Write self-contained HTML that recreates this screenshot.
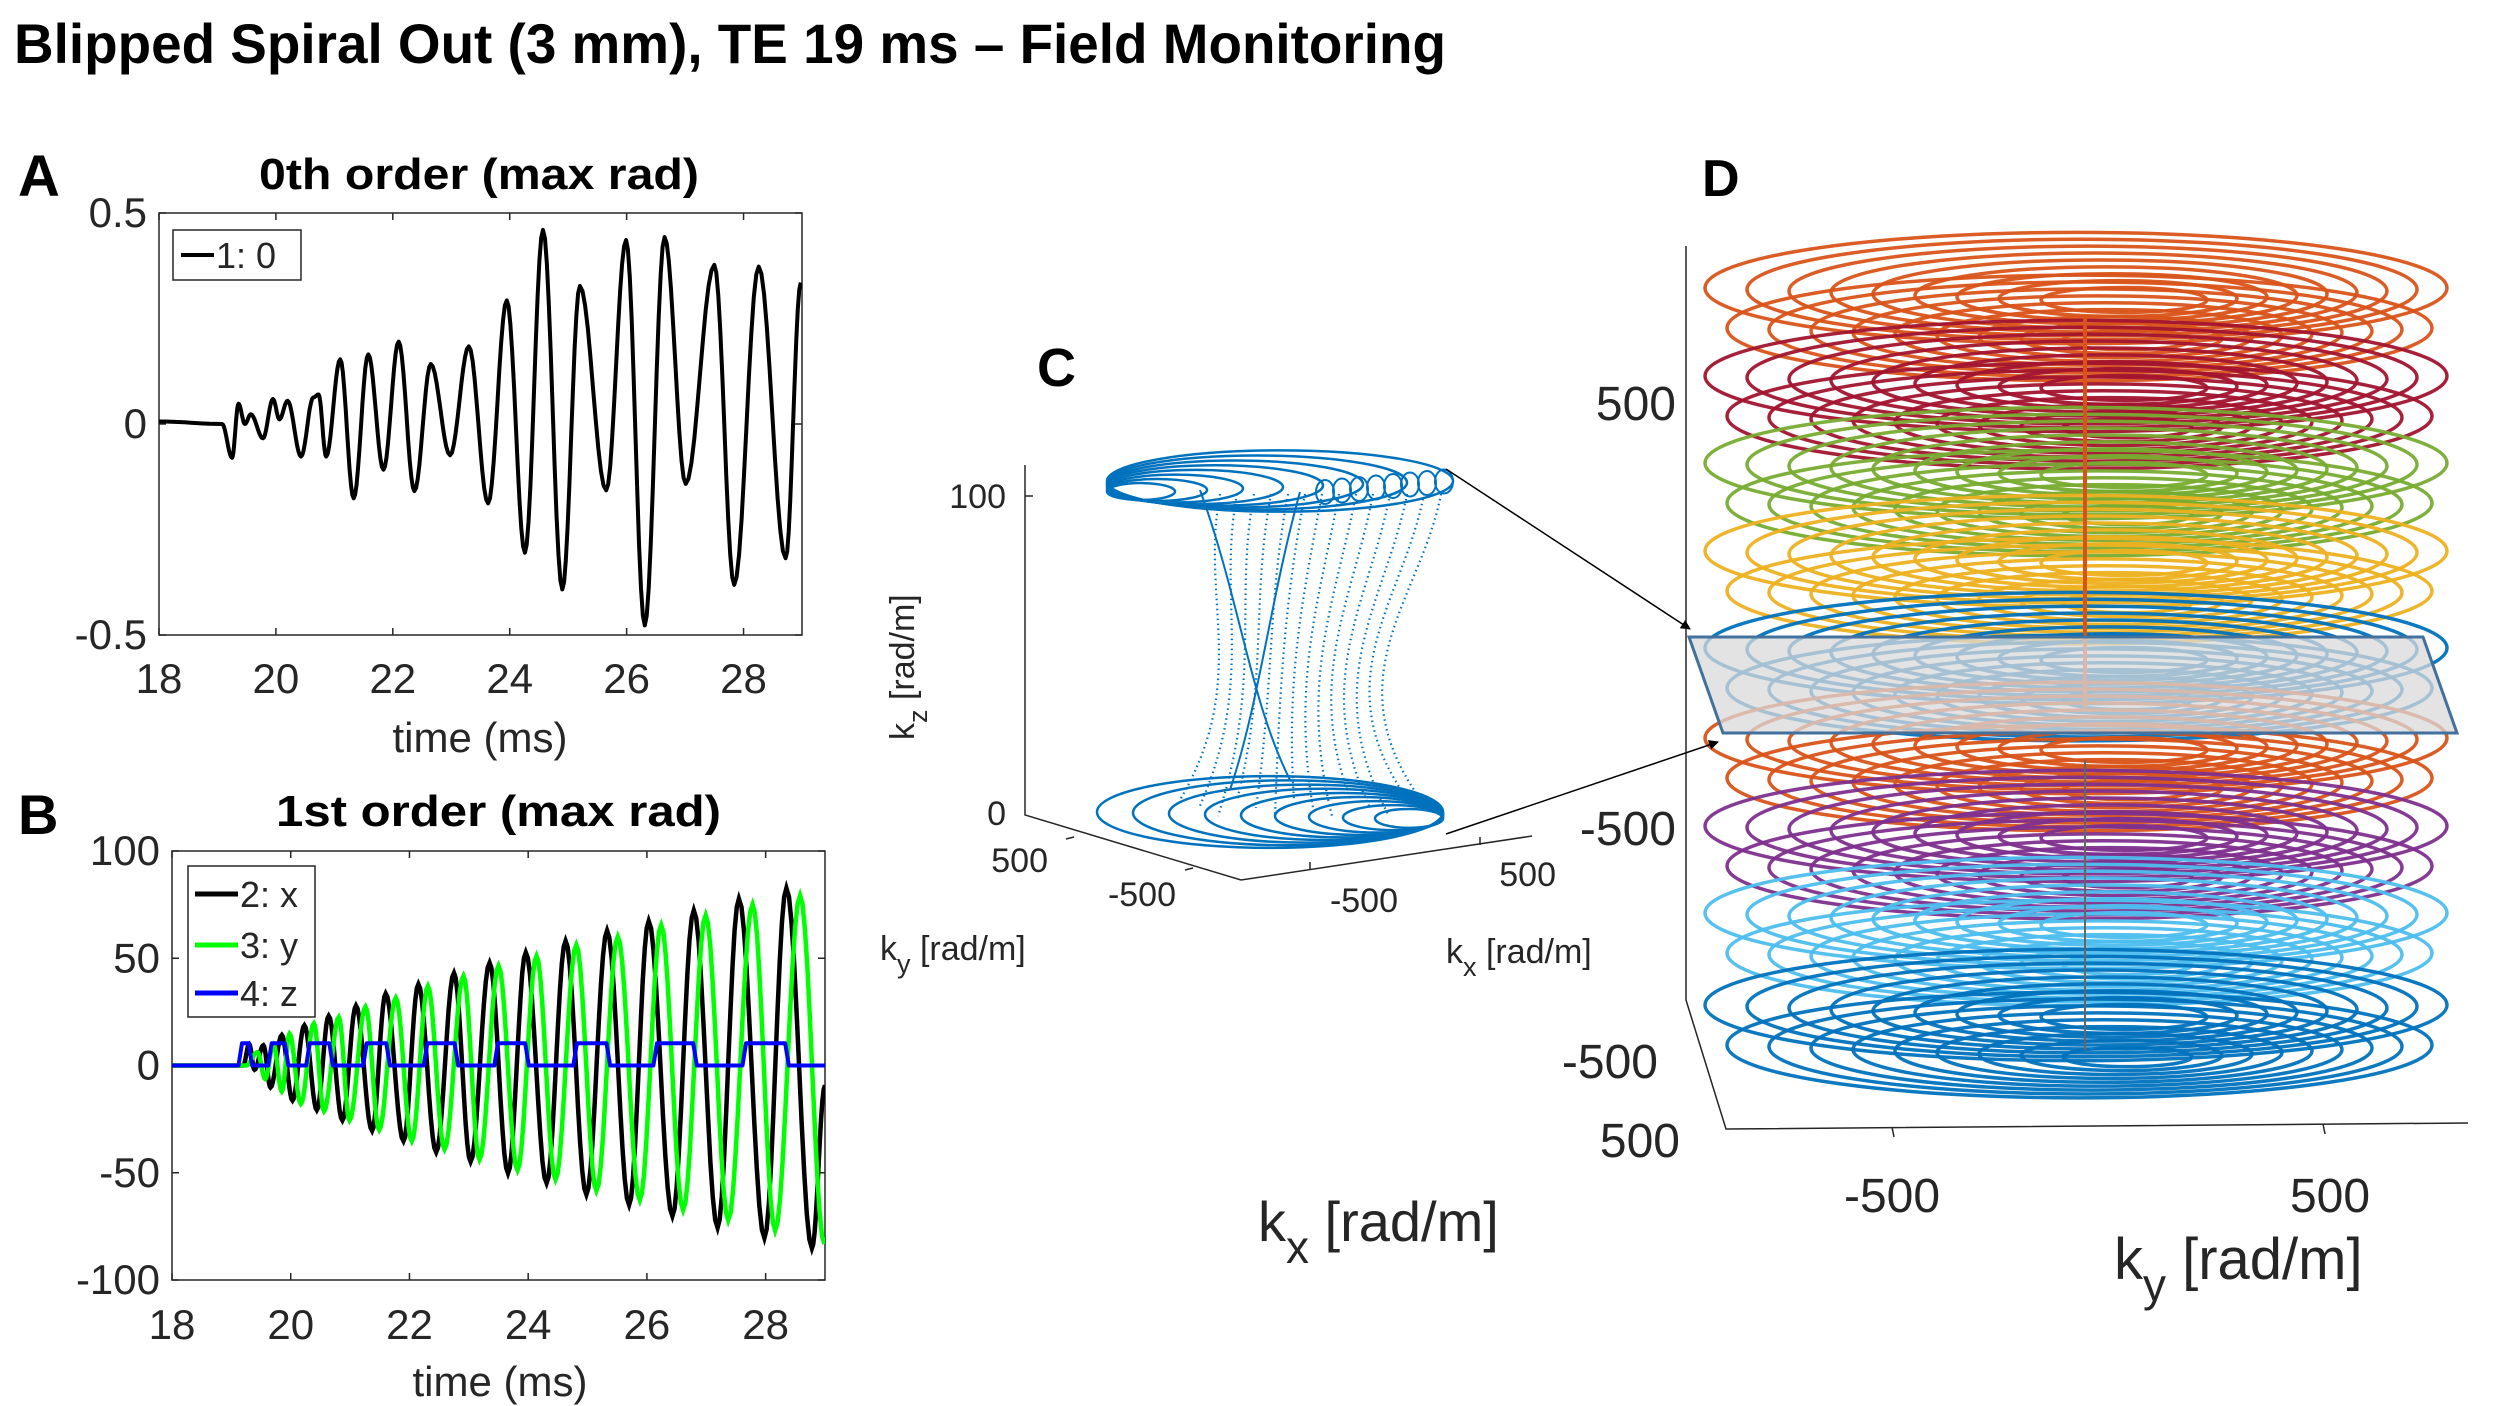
<!DOCTYPE html>
<html><head><meta charset="utf-8">
<style>
html,body{margin:0;padding:0;background:#fff;}
svg{display:block;}
text{font-family:"Liberation Sans",sans-serif;fill:#262626;}
.b{font-weight:bold;fill:#000;}
</style></head>
<body>
<svg id="fig" width="2500" height="1406" viewBox="0 0 2500 1406" xmlns="http://www.w3.org/2000/svg">
<defs>
<marker id="ah" markerWidth="10" markerHeight="10" refX="9" refY="5" orient="auto" markerUnits="userSpaceOnUse"><path d="M0,0 L10,5 L0,10 z" fill="#000"/></marker>
<clipPath id="clipA"><rect x="159" y="213" width="643" height="422"/></clipPath>
<clipPath id="clipB"><rect x="172" y="851" width="653" height="429"/></clipPath>
</defs>
<text class="b" x="14" y="63" font-size="56" textLength="1432" lengthAdjust="spacingAndGlyphs">Blipped Spiral Out (3 mm), TE 19 ms – Field Monitoring</text>

<!-- Panel A -->
<g id="panelA">
<text class="b" x="18" y="196" font-size="58">A</text>
<text class="b" x="259" y="189" font-size="44" textLength="440" lengthAdjust="spacingAndGlyphs">0th order (max rad)</text>
<rect x="159" y="213" width="643" height="422" fill="none" stroke="#262626" stroke-width="1.5"/>
<g id="aTicks"></g>
<g id="aLine" clip-path="url(#clipA)"></g>
<text x="480" y="752" font-size="42" text-anchor="middle">time (ms)</text>
<g>
<rect x="173" y="230" width="128" height="50" fill="#fff" stroke="#262626" stroke-width="1.5"/>
<line x1="181" y1="255" x2="214" y2="255" stroke="#000" stroke-width="4"/>
<text x="216" y="268" font-size="36">1: 0</text>
</g>
</g>

<!-- Panel B -->
<g id="panelB">
<text class="b" x="18" y="834" font-size="56">B</text>
<text class="b" x="276" y="826" font-size="44" textLength="445" lengthAdjust="spacingAndGlyphs">1st order (max rad)</text>
<rect x="172" y="851" width="653" height="429" fill="none" stroke="#262626" stroke-width="1.5"/>
<g id="bTicks"></g>
<g id="bLines" clip-path="url(#clipB)"></g>
<text x="500" y="1396" font-size="42" text-anchor="middle">time (ms)</text>
<g>
<rect x="188" y="866" width="127" height="151" fill="#fff" stroke="#262626" stroke-width="1.5"/>
<line x1="195" y1="894" x2="238" y2="894" stroke="#000" stroke-width="5"/>
<text x="240" y="907" font-size="36">2: x</text>
<line x1="195" y1="945" x2="238" y2="945" stroke="#00ff00" stroke-width="5"/>
<text x="240" y="958" font-size="36">3: y</text>
<line x1="195" y1="993" x2="238" y2="993" stroke="#0000ff" stroke-width="5"/>
<text x="240" y="1006" font-size="36">4: z</text>
</g>
</g>

<!-- Panel C -->
<g id="panelC">
<text class="b" x="1037" y="386" font-size="54">C</text>
<polyline points="1025,465 1025,815 1241,880 1532,836" fill="none" stroke="#262626" stroke-width="1.5"/>
<line x1="1025" y1="496" x2="1033" y2="496" stroke="#262626" stroke-width="1.5"/>
<line x1="1066" y1="839" x2="1074" y2="837" stroke="#262626" stroke-width="1.5"/>
<line x1="1185" y1="870" x2="1193" y2="868" stroke="#262626" stroke-width="1.5"/>
<line x1="1310" y1="870" x2="1310" y2="862" stroke="#262626" stroke-width="1.5"/>
<line x1="1480" y1="845" x2="1480" y2="837" stroke="#262626" stroke-width="1.5"/>
<g font-size="34">
<text x="1006" y="508" text-anchor="end">100</text>
<text x="1006" y="825" text-anchor="end">0</text>
<text x="1048" y="872" text-anchor="end">500</text>
<text x="1176" y="906" text-anchor="end">-500</text>
<text x="1398" y="912" text-anchor="end">-500</text>
<text x="1556" y="886" text-anchor="end">500</text>
<text x="880" y="960">k<tspan dy="13" font-size="27">y</tspan><tspan dy="-13"> [rad/m]</tspan></text>
<text x="1446" y="963">k<tspan dy="13" font-size="27">x</tspan><tspan dy="-13"> [rad/m]</tspan></text>
<text transform="translate(914,740) rotate(-90)">k<tspan dy="13" font-size="27">z</tspan><tspan dy="-13"> [rad/m]</tspan></text>
</g>
<g id="cSpiral"></g>
<text x="1258" y="1241" font-size="56">k<tspan dy="22" font-size="46">x</tspan><tspan dy="-22"> [rad/m]</tspan></text>
</g>

<!-- Panel D -->
<g id="panelD">
<text class="b" x="1702" y="196" font-size="52">D</text>
<polyline points="1686,246 1686,1000 1726,1129 2468,1123" fill="none" stroke="#262626" stroke-width="1.5"/>
<g id="dSpiral"></g>
<g font-size="48">
<text x="1676" y="420" text-anchor="end">500</text>
<text x="1676" y="845" text-anchor="end">-500</text>
<text x="1658" y="1078" text-anchor="end">-500</text>
<text x="1680" y="1157" text-anchor="end">500</text>
<text x="1892" y="1212" text-anchor="middle">-500</text>
<text x="2330" y="1212" text-anchor="middle">500</text>
</g>
<line x1="1892" y1="1127" x2="1894" y2="1137" stroke="#262626" stroke-width="1.5"/>
<line x1="2323" y1="1124" x2="2325" y2="1134" stroke="#262626" stroke-width="1.5"/>
<text x="2114" y="1279" font-size="58">k<tspan dy="22" font-size="46">y</tspan><tspan dy="-22"> [rad/m]</tspan></text>
<polygon points="1689,637 2423,637 2457,733 1723,733" fill="#d9d9d9" fill-opacity="0.75" stroke="#41719C" stroke-width="3"/>
</g>
<line x1="1446" y1="469" x2="1690" y2="629" stroke="#000" stroke-width="1.5" marker-end="url(#ah)"/>
<line x1="1446" y1="834" x2="1718" y2="742" stroke="#000" stroke-width="1.5" marker-end="url(#ah)"/>
</svg>
<script>
// ===== Panel A data: extremes of 0th order phase (time ms, value rad)
const aTimes = [18.00,19.08,19.25,19.36,19.47,19.57,19.78,19.95,20.06,20.20,20.43,20.64,20.73,20.86,21.10,21.33,21.58,21.84,22.10,22.37,22.65,22.98,23.30,23.63,23.95,24.26,24.57,24.90,25.20,25.65,25.99,26.31,26.65,27.01,27.50,27.84,28.26,28.72,28.98];
const aValues = [0.006,0,-0.08,0.048,0,0.023,-0.034,0.059,0.011,0.055,-0.077,0.063,0.07,-0.077,0.153,-0.176,0.165,-0.108,0.195,-0.159,0.142,-0.074,0.184,-0.188,0.293,-0.305,0.46,-0.392,0.327,-0.157,0.436,-0.477,0.443,-0.142,0.377,-0.381,0.373,-0.318,0.335];
const aXTicks = [18,20,22,24,26,28];
const aYTicks = [0.5,0,-0.5];
const aYTickLabels = ["0.5","0","-0.5"];
// ===== Panel B data
const bXTimes = [18,19.2,19.30,19.39,19.54,19.66,19.85,20.03,20.23,20.44,20.64,20.87,21.10,21.37,21.60,21.90,22.15,22.45,22.75,23.03,23.35,23.66,23.96,24.31,24.63,24.98,25.33,25.70,26.03,26.43,26.79,27.19,27.55,27.98,28.35,28.78,29.0];
const bXValues = [0,0,10,-2,9.4,-10.2,14.2,-16.3,18.7,-20.8,23.1,-25.6,27.9,-30.4,33.5,-35.2,37.9,-40.4,43.1,-44.8,47.9,-50.2,52.7,-54.8,58.1,-60.2,62.9,-65,67.3,-70.2,72.3,-75.6,77.7,-80.4,82.7,-85.2,-9.2];
const bYTimes = [18,19.25,19.44,19.57,19.71,19.85,19.98,20.17,20.39,20.56,20.81,20.99,21.26,21.49,21.77,22.04,22.31,22.59,22.91,23.18,23.50,23.82,24.14,24.46,24.81,25.15,25.51,25.88,26.24,26.61,26.99,27.37,27.78,28.16,28.58,28.99];
const bYValues = [0,0,6.2,-6.3,10,-12.1,14.8,-17.9,19.6,-21.2,22.5,-25.6,27.3,-30,31.5,-35.2,36.9,-39,41.7,-43.8,46.5,-48.7,51,-53.1,56.2,-58.3,60,-62.7,65.4,-67.3,70,-72.1,75,-76.9,79.2,-83.3];
const bZStarts = [19.12,19.62,20.26,21.22,22.24,23.43,24.76,26.11,27.61];
const bZEnds = [19.35,19.96,20.71,21.67,22.82,24.01,25.38,26.84,28.39];
const bZLevel = [10.4];
const bXTicks = [18,20,22,24,26,28];
const bYTicks = [100,50,0,-50,-100];

const NS = "http://www.w3.org/2000/svg";
function mk(tag, attrs, parent){const e=document.createElementNS(NS,tag);for(const k in attrs)e.setAttribute(k,attrs[k]);parent.appendChild(e);return e;}

const axA = {x:t=>159+(t-18)/11*643, y:v=>424-v*422};
const axB = {x:t=>172+(t-18)/11*653, y:v=>1065.5-v*2.145};

function smoothPath(ts, vs, ax){
  let d = "M"+ax.x(ts[0]).toFixed(1)+","+ax.y(vs[0]).toFixed(1);
  for(let i=1;i<ts.length;i++){
    for(let s=1;s<=10;s++){
      const f=s/10, w=(1-Math.cos(Math.PI*f))/2;
      const t=ts[i-1]+(ts[i]-ts[i-1])*f, v=vs[i-1]+(vs[i]-vs[i-1])*w;
      d+=" L"+ax.x(t).toFixed(1)+","+ax.y(v).toFixed(1);
    }
  }
  return d;
}

const aT = document.getElementById('aTicks');
aXTicks.forEach(t=>{
  const x=axA.x(t);
  const l1=mk('line',{x1:x,y1:635,x2:x,y2:628,stroke:'#262626','stroke-width':1.5},aT);
  
  
  mk('line',{x1:x,y1:213,x2:x,y2:220,stroke:'#262626','stroke-width':1.5},aT);
  const tx=mk('text',{x:x,y:693,'font-size':42,'text-anchor':'middle'},aT);
  tx.textContent=t;
  
  
});
aYTicks.forEach((v,i)=>{
  const y=axA.y(v);
  mk('line',{x1:159,y1:y,x2:166,y2:y,stroke:'#262626','stroke-width':1.5},aT);
  mk('line',{x1:802,y1:y,x2:795,y2:y,stroke:'#262626','stroke-width':1.5},aT);
  const tx=mk('text',{x:147,y:y+14,'font-size':42,'text-anchor':'end'},aT);
  tx.textContent=aYTickLabels[i];
  
  
});
const aL=mk('path',{d:smoothPath(aTimes,aValues,axA),fill:'none',stroke:'#000','stroke-width':4,'stroke-linejoin':'round'},document.getElementById('aLine'));



const bT=document.getElementById('bTicks');
bXTicks.forEach(t=>{
  const x=axB.x(t);
  mk('line',{x1:x,y1:1280,x2:x,y2:1273,stroke:'#262626','stroke-width':1.5},bT);
  mk('line',{x1:x,y1:851,x2:x,y2:858,stroke:'#262626','stroke-width':1.5},bT);
  const tx=mk('text',{x:x,y:1339,'font-size':42,'text-anchor':'middle'},bT);
  tx.textContent=t;
  
  
});
bYTicks.forEach(v=>{
  const y=axB.y(v);
  mk('line',{x1:172,y1:y,x2:179,y2:y,stroke:'#262626','stroke-width':1.5},bT);
  mk('line',{x1:825,y1:y,x2:818,y2:y,stroke:'#262626','stroke-width':1.5},bT);
  const tx=mk('text',{x:160,y:y+14,'font-size':42,'text-anchor':'end'},bT);
  tx.textContent=v;
  
  
});
const bG=document.getElementById('bLines');
const px=mk('path',{d:smoothPath(bXTimes,bXValues,axB),fill:'none',stroke:'#000','stroke-width':4.5},bG);


const py=mk('path',{d:smoothPath(bYTimes,bYValues,axB),fill:'none',stroke:'#00ff00','stroke-width':4.5},bG);


let zd="M"+axB.x(18)+","+axB.y(0);
const ramp=0.06;
bZStarts.forEach((s,i)=>{
  const e=bZEnds[i];
  zd+=" L"+axB.x(s).toFixed(1)+","+axB.y(0).toFixed(1);
  zd+=" L"+axB.x(s+ramp).toFixed(1)+","+axB.y(bZLevel[0]).toFixed(1);
  zd+=" L"+axB.x(e-ramp).toFixed(1)+","+axB.y(bZLevel[0]).toFixed(1);
  zd+=" L"+axB.x(e).toFixed(1)+","+axB.y(0).toFixed(1);
});
zd+=" L"+axB.x(29)+","+axB.y(0);
const pz=mk('path',{d:zd,fill:'none',stroke:'#0000ff','stroke-width':4,'stroke-linejoin':'round'},bG);



// ===== Panel C spiral (illustrative)
const cG=document.getElementById('cSpiral');
const cBlue="#0072BD";
const topRx=[173,150,128,108,88,68,50,34];
const botRx=[173,155,137,119,101,84,67,50,34];
topRx.forEach((rx,i)=>{
  const cx=1107+rx, cy=481+i*1.5;
  const e=mk('ellipse',{cx:cx,cy:cy,rx:rx,ry:rx*0.16+3,fill:'none',stroke:cBlue,'stroke-width':2.5},cG);
  
  
});
for(let k=0;k<8;k++){
  mk('ellipse',{cx:1325+k*17,cy:492-k*1.5,rx:9,ry:12,fill:'none',stroke:cBlue,'stroke-width':2},cG);
}
botRx.forEach((rx,i)=>{
  const cx=1443-rx, cy=812+i*0.8;
  const e=mk('ellipse',{cx:cx,cy:cy,rx:rx,ry:rx*0.19+3,fill:'none',stroke:cBlue,'stroke-width':2.5},cG);
  
  
});
for(let k=0;k<14;k++){
  const xt=1220+k*17, xb=1180+k*19;
  mk('path',{d:`M${xt},${494} C${xt-20},${600} ${1250+k*6},${680} ${xb},${800+ (k%3)*8}`,fill:'none',stroke:cBlue,'stroke-width':2.2,'stroke-dasharray':'1.5 3.5'},cG);
}
mk('path',{d:"M1200,490 C1240,600 1250,700 1290,780 M1300,492 C1270,600 1260,700 1230,790",fill:'none',stroke:cBlue,'stroke-width':2},cG);

// ===== Panel D stacked spirals (illustrative)
const dG=document.getElementById('dSpiral');
const layerColors=["#D95319","#A2142F","#77AC30","#EDB120","#0072BD","#D95319","#7E2F8E","#4DBEEE","#0072BD"];
const layerY=[288,376,463,551,648,738,826,913,1005];
layerColors.forEach((c,li)=>{
  const g=mk('g',{},dG);
  
  
  for(let sub=0;sub<2;sub++){
    for(let k=0;k<9;k++){
      const L=1705+k*42+sub*22, R=2447-k*30-sub*15;
      const rx=(R-L)/2, cx=(L+R)/2;
      const cy=layerY[li]+sub*40+k*1.5;
      mk('ellipse',{cx:cx,cy:cy,rx:rx,ry:Math.max(8,rx*0.15),fill:'none',stroke:c,'stroke-width':3.5,'stroke-opacity':0.95},g);
    }
  }
});
const vc1=mk('line',{x1:2085,y1:317,x2:2085,y2:708,stroke:'#D95319','stroke-width':4},dG);


mk('line',{x1:2085,y1:760,x2:2085,y2:1050,stroke:'#666','stroke-width':2},dG);
</script>
</body></html>
